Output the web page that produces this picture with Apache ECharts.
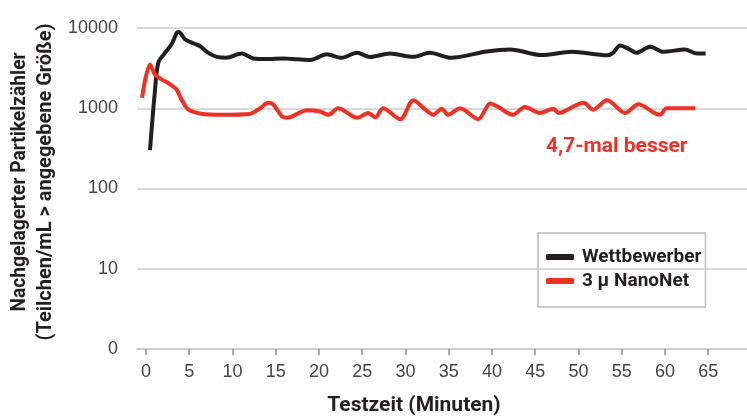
<!DOCTYPE html>
<html>
<head>
<meta charset="utf-8">
<script src="https://cdn.jsdelivr.net/npm/echarts@6/dist/echarts.min.js"></script>
<style>
  html, body { margin: 0; padding: 0; background: #fff; }
  #chart { width: 747px; height: 416px; }
</style>
</head>
<body>
<div id="chart"></div>
<script>
// Values (minutes, particles/mL)
const competitorTime = [0.46, 1.0, 1.42, 2.2, 2.97, 3.55, 3.8, 4.5, 5.47, 6.24, 7.2, 8.2, 9.3, 11.06, 12.4, 14.1, 15.9, 17.5, 19.0, 20.9, 22.6, 24.4, 25.9, 28.2, 30.9, 32.8, 35.3, 39.2, 42.1, 45.7, 49.2, 53.3, 54.0, 54.8, 55.8, 56.7, 58.3, 59.8, 62.3, 63.7, 64.7];
const competitorValues = [300, 1500, 3690, 4900, 6300, 8700, 8900, 7250, 6450, 5960, 4900, 4370, 4260, 4800, 4170, 4100, 4170, 4070, 4000, 4700, 4260, 4900, 4350, 4800, 4370, 4900, 4260, 5050, 5400, 4600, 5050, 4560, 4900, 6070, 5500, 4900, 5850, 5050, 5400, 4800, 4800];

const nanoTime = [-0.46, 0.46, 1.04, 1.8, 2.77, 3.55, 4.1, 4.9, 6.4, 8.7, 12.0, 13.2, 14.1, 14.7, 15.7, 16.3, 18.6, 20.1, 21.1, 22.2, 24.4, 25.7, 26.5, 27.4, 29.4, 30.9, 32.3, 33.2, 34.2, 34.9, 36.3, 38.4, 39.8, 40.7, 42.4, 43.8, 45.5, 47.1, 47.7, 49.6, 50.6, 51.7, 53.3, 55.4, 56.9, 59.4, 60.2, 63.5];
const nanoValues = [1350, 3520, 2630, 2290, 1990, 1700, 1290, 960, 855, 830, 850, 1000, 1170, 1120, 795, 760, 945, 910, 830, 1000, 760, 875, 770, 1000, 730, 1260, 960, 830, 985, 830, 1000, 730, 1150, 1040, 830, 1040, 875, 985, 875, 1075, 1170, 960, 1260, 875, 1120, 830, 1000, 1000];

const xTicks = [0, 5, 10, 15, 20, 25, 30, 35, 40, 45, 50, 55, 60, 65];
const seriesNames = ['Wettbewerber', '3 \u03bc NanoNet'];
const yTitle = ['Nachgelagerter Partikelzähler', '(Teilchen/mL > angegebene Größe)'];
const xTitle = 'Testzeit (Minuten)';
const note = '4,7-mal besser';

const BOLD = 'Roboto, "Liberation Sans", sans-serif';
const REGULAR = '"Liberation Sans", Arial, sans-serif';
const BLACK = '#231f20';
const RED = '#ee3124';

const zip = (xs, ys) => xs.map((x, i) => [x, ys[i]]);

const chart = echarts.init(document.getElementById('chart'), null, { renderer: 'canvas' });
chart.setOption({
  animation: false,
  grid: { left: 137, right: 0, top: 28, bottom: 67 },
  xAxis: {
    type: 'value',
    min: -1.04,
    max: 69.48,
    axisLine: { lineStyle: { color: '#c8c8c8', width: 1.5 } },
    axisTick: { customValues: xTicks, length: 6, lineStyle: { color: '#a8a8a8', width: 2 } },
    axisLabel: {
      customValues: xTicks,
      margin: 14,
      color: '#444444',
      fontSize: 18,
      fontFamily: REGULAR
    },
    splitLine: { show: false }
  },
  yAxis: {
    type: 'log',
    logBase: 10,
    min: 1,
    max: 10000,
    axisLine: { show: false },
    axisTick: { show: false },
    axisLabel: {
      margin: 19,
      color: '#444444',
      fontSize: 18,
      fontFamily: REGULAR,
      formatter: (v) => (v === 1 ? '0' : String(v))
    },
    splitLine: { lineStyle: { color: '#cccccc', width: 1.5 } }
  },
  legend: {
    orient: 'vertical',
    left: 538,
    top: 233,
    padding: [14, 4, 16, 8],
    borderColor: '#bbbbbb',
    borderWidth: 1.5,
    itemWidth: 28,
    itemHeight: 6,
    itemGap: 4,
    icon: 'roundRect',
    textStyle: {
      fontFamily: BOLD,
      fontWeight: 'bold',
      fontSize: 19,
      lineHeight: 20,
      color: BLACK,
      padding: [0, 0, 0, 3]
    },
    data: seriesNames
  },
  graphic: [
    {
      type: 'text', x: 20, y: 182, rotation: Math.PI / 2, scaleX: 0.96,
      style: { text: yTitle[0], font: 'bold 20px ' + BOLD, fill: BLACK, textAlign: 'center', textVerticalAlign: 'middle' }
    },
    {
      type: 'text', x: 46, y: 182, rotation: Math.PI / 2,
      style: { text: yTitle[1], font: 'bold 20px ' + BOLD, fill: BLACK, textAlign: 'center', textVerticalAlign: 'middle' }
    },
    {
      type: 'text', x: 414, y: 406,
      style: { text: xTitle, font: 'bold 21px ' + BOLD, fill: BLACK, textAlign: 'center', textVerticalAlign: 'middle' }
    },
    {
      type: 'text', x: 546, y: 147,
      style: { text: note, font: 'bold 21px ' + BOLD, fill: RED, textAlign: 'left', textVerticalAlign: 'middle' }
    }
  ],
  series: [
    {
      name: seriesNames[0],
      type: 'line',
      data: zip(competitorTime, competitorValues),
      showSymbol: false,
      smooth: 0.3,
      lineStyle: { color: BLACK, width: 4 },
      itemStyle: { color: BLACK }
    },
    {
      name: seriesNames[1],
      type: 'line',
      data: zip(nanoTime, nanoValues),
      showSymbol: false,
      smooth: 0.3,
      lineStyle: { color: RED, width: 4 },
      itemStyle: { color: RED }
    }
  ]
});
</script>
</body>
</html>
